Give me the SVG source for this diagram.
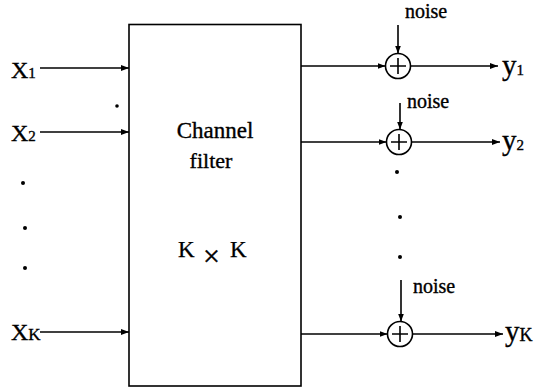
<svg xmlns="http://www.w3.org/2000/svg" width="543" height="389" viewBox="0 0 543 389">
<style>
text{font-family:"Liberation Serif","Times New Roman",serif;fill:#000;stroke:#000;stroke-width:0.35}
.lbl{font-size:24px}
.sub{font-size:15px}
.noise{font-size:20px}
.kk{font-size:23px;stroke-width:0.25}
.ln{stroke:#000;stroke-width:1.6;fill:none}
.dot{fill:#000}
</style>
<defs>
<marker id="ah" markerWidth="8" markerHeight="6" refX="8" refY="3" orient="auto" markerUnits="userSpaceOnUse">
<path d="M0,0 L8,3 L0,6 Z" fill="#000"/>
</marker>
</defs>
<rect width="543" height="389" fill="#fff"/>
<g id="channel">
<rect x="129" y="24.5" width="172" height="361.5" class="ln" stroke-width="2"/>
<text x="215" y="138" text-anchor="middle" style="font-size:23px">Channel</text>
<text x="211" y="168" text-anchor="middle" style="font-size:22px">filter</text>
<text x="178" y="257" class="kk">K</text>
<text x="203" y="266" style="font-size:30px">×</text>
<text x="230" y="257" class="kk">K</text>
</g>
<g id="inputs">
<text x="11" y="78" class="lbl">X<tspan class="sub">1</tspan></text>
<text x="11" y="141" class="lbl">X<tspan class="sub">2</tspan></text>
<text x="11" y="340" class="lbl">X<tspan style="font-size:17px">K</tspan></text>
<circle cx="23" cy="183" r="2" class="dot"/>
<circle cx="25" cy="228" r="2" class="dot"/>
<circle cx="25" cy="268" r="2" class="dot"/>
<circle cx="117" cy="106" r="1.8" class="dot"/>
</g>
<g id="sum1">
<circle cx="398" cy="66" r="12.5" class="ln"/>
<path d="M390,66 H406 M398,58 V74" class="ln"/>
<text x="405" y="18" class="noise">noise</text>
</g>
<g id="sum2">
<circle cx="399" cy="142" r="12.5" class="ln"/>
<path d="M391,142 H407 M399,134 V150" class="ln"/>
<text x="407" y="108" class="noise">noise</text>
</g>
<g id="sum3">
<circle cx="400" cy="334" r="12.5" class="ln"/>
<path d="M392,334 H408 M400,326 V342" class="ln"/>
<text x="413" y="293" class="noise">noise</text>
</g>
<g id="outputs">
<text x="502" y="75" style="font-size:29px">y<tspan class="sub">1</tspan></text>
<text x="502" y="150" style="font-size:29px">y<tspan class="sub">2</tspan></text>
<text x="505" y="341" style="font-size:29px">y<tspan style="font-size:18px">K</tspan></text>
<circle cx="397" cy="172" r="2" class="dot"/>
<circle cx="400" cy="217" r="2" class="dot"/>
<circle cx="400" cy="257" r="2" class="dot"/>
</g>
<g id="connectors" class="ln">
<path d="M40,68 H129" marker-end="url(#ah)"/>
<path d="M40,132 H129" marker-end="url(#ah)"/>
<path d="M40,332 H129" marker-end="url(#ah)"/>
<path d="M301,66 H385.5" marker-end="url(#ah)"/>
<path d="M301,142 H386.5" marker-end="url(#ah)"/>
<path d="M301,334 H387.5" marker-end="url(#ah)"/>
<path d="M410.5,66 H498" marker-end="url(#ah)"/>
<path d="M411.5,142 H500" marker-end="url(#ah)"/>
<path d="M412.5,334 H503" marker-end="url(#ah)"/>
<path d="M398,25 V53.5" marker-end="url(#ah)"/>
<path d="M400,103 V129.5" marker-end="url(#ah)"/>
<path d="M401,280 V321.5" marker-end="url(#ah)"/>
</g>
</svg>
